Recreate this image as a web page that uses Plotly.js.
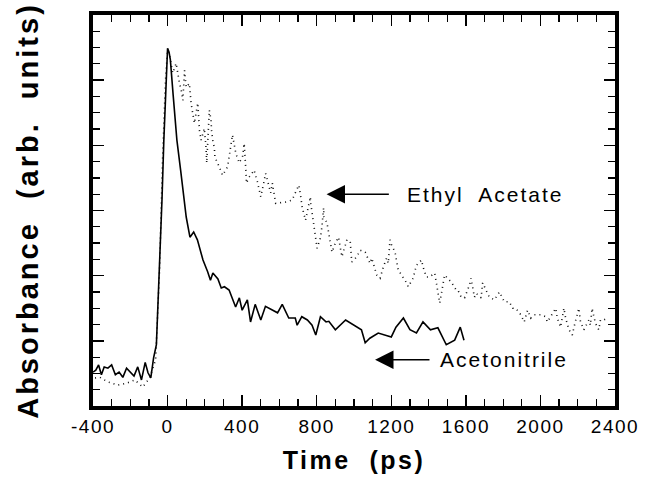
<!DOCTYPE html>
<html>
<head>
<meta charset="utf-8">
<script src="https://cdn.plot.ly/plotly-3.0.1.min.js"></script>
<style>
  html, body { margin: 0; padding: 0; background: #fff; }
  #chart { width: 647px; height: 479px; }
  .xtick text { letter-spacing: 1.5px; }
  .xtitle { letter-spacing: 2.5px; }
  .ytitle { letter-spacing: 3px; }
  .annotation-text { letter-spacing: 2px; }
</style>
</head>
<body>
<div id="chart"></div>
<script>
// Acetonitrile (solid line): time (ps) and absorbance (arb. units)
const acnTime = [-400,-385,-370,-355,-340,-320,-300,-280,-260,-240,-220,-200,-180,-160,-140,-120,-105,-90,-75,-60,-50,-40,-30,-20,-10,0,8,15,30,50,70,90,100,120,140,160,190,215,230,243,270,288,305,330,365,385,400,428,445,470,500,525,560,590,615,650,685,695,720,750,775,795,820,850,865,900,955,1000,1040,1060,1085,1130,1200,1225,1265,1300,1335,1370,1410,1450,1495,1540,1570,1590];
const acnAbs  = [0.52,0.55,0.63,0.48,0.60,0.58,0.63,0.48,0.52,0.44,0.58,0.52,0.46,0.60,0.40,0.67,0.51,0.43,0.74,0.94,1.63,2.39,3.16,4.08,4.85,5.49,5.43,5.31,4.77,4.08,3.62,3.16,2.90,2.59,2.67,2.55,2.24,2.06,1.93,2.04,1.95,1.81,1.83,1.78,1.52,1.66,1.47,1.63,1.29,1.56,1.32,1.53,1.47,1.43,1.56,1.35,1.35,1.24,1.37,1.32,1.24,1.09,1.37,1.29,1.30,1.17,1.32,1.24,1.17,0.97,1.04,1.12,1.06,1.21,1.35,1.17,1.12,1.29,1.17,1.20,0.94,1.01,1.21,1.01];

// Ethyl acetate (dotted trace)
const etaTime = [-389,-363,-320,-267,-219,-176,-133,-96,-64,-43,-27,-11,0,11,20,28,46,53,64,73,82,91,100,117,120,126,135,144,162,171,180,197,206,210,224,233,236,242,251,254,277,295,322,340,348,366,384,402,411,420,423,437,464,482,500,517,526,553,562,580,633,668,704,713,722,740,766,768,784,793,802,820,828,837,839,855,873,882,900,917,926,935,962,980,988,1015,1033,1060,1086,1095,1122,1140,1157,1175,1184,1193,1202,1220,1237,1264,1282,1291,1317,1335,1362,1371,1388,1406,1433,1451,1460,1486,1522,1548,1557,1575,1593,1620,1628,1646,1655,1682,1690,1726,1753,1780,1806,1833,1851,1868,1895,1913,1931,1948,1966,2002,2028,2037,2064,2082,2090,2108,2126,2135,2153,2171,2180,2206,2215,2233,2260,2268,2277,2295,2313,2322,2340,2357];
const etaAbs  = [0.43,0.44,0.37,0.32,0.35,0.40,0.29,0.43,0.71,2.09,3.77,5.00,5.46,5.38,5.23,5.11,5.26,5.11,4.95,4.85,4.69,5.15,4.89,4.95,4.80,4.65,4.49,4.34,4.65,4.23,4.08,4.26,3.97,3.73,4.54,4.39,4.23,4.08,3.96,3.82,3.67,3.54,3.67,4.03,4.16,3.88,3.73,3.82,4.03,3.62,3.42,3.51,3.62,3.44,3.21,3.44,3.57,3.27,3.42,3.11,3.13,3.16,3.39,3.24,3.05,2.85,3.21,3.11,2.81,2.65,2.42,2.58,2.75,3.04,2.90,2.81,2.50,2.36,2.50,2.59,2.44,2.29,2.55,2.52,2.21,2.29,2.39,2.36,2.19,2.27,2.01,1.96,2.13,2.27,2.19,2.55,2.47,2.36,2.09,1.98,1.89,1.83,1.96,2.16,2.24,2.13,1.98,1.98,2.04,1.73,1.58,2.01,1.90,1.78,1.78,1.67,1.66,1.86,1.96,1.67,1.73,1.66,1.89,1.67,1.63,1.75,1.60,1.60,1.50,1.50,1.40,1.29,1.47,1.35,1.40,1.40,1.37,1.29,1.43,1.50,1.35,1.21,1.50,1.35,1.17,1.09,1.21,1.50,1.29,1.17,1.32,1.24,1.50,1.27,1.17,1.32,1.32,1.35];

// Axis ticks
const xTickVals = [-400, 0, 400, 800, 1200, 1600, 2000, 2400];
const xTickText = ['-400', '0', '400', '800', '1200', '1600', '2000', '2400'];

// Labels
const seriesNames = ['Acetonitrile', 'Ethyl Acetate'];
const xTitle = 'Time  (ps)';
const yTitle = 'Absorbance  (arb.  units)';

const FONT = 'Liberation Sans, Arial, Helvetica, sans-serif';

const traces = [
  {
    x: etaTime, y: etaAbs, name: seriesNames[1],
    type: 'scatter', mode: 'lines',
    line: { color: '#111', width: 1.6, dash: '1px,4px' }
  },
  {
    x: acnTime, y: acnAbs, name: seriesNames[0],
    type: 'scatter', mode: 'lines',
    line: { color: '#000', width: 1.6 }
  }
];

const layout = {
  width: 647, height: 479,
  margin: { l: 93, r: 32, t: 15, b: 73 },
  paper_bgcolor: '#fff', plot_bgcolor: '#fff',
  showlegend: false,
  font: { family: FONT, color: '#000' },
  xaxis: {
    range: [-400, 2400],
    tickmode: 'array', tickvals: xTickVals, ticktext: xTickText,
    ticks: 'inside', ticklen: 11, tickwidth: 1.5, tickcolor: '#000',
    minor: { dtick: 100, tick0: 0, ticks: 'inside', ticklen: 7, tickwidth: 1.2, tickcolor: '#000', showgrid: false },
    showline: true, linecolor: '#000', linewidth: 4, mirror: 'allticks',
    showgrid: false, zeroline: false,
    tickfont: { family: FONT, size: 19, color: '#000' },
    title: { text: xTitle, font: { family: FONT, size: 25, weight: 'bold', color: '#000' }, standoff: 17 }
  },
  yaxis: {
    range: [0, 6],
    dtick: 1, tick0: 0,
    ticks: 'inside', ticklen: 11, tickwidth: 1.5, tickcolor: '#000',
    minor: { dtick: 0.25, tick0: 0, ticks: 'inside', ticklen: 7, tickwidth: 1.2, tickcolor: '#000', showgrid: false },
    showticklabels: false,
    showline: true, linecolor: '#000', linewidth: 4, mirror: 'allticks',
    showgrid: false, zeroline: false,
    title: { text: yTitle, font: { family: FONT, size: 29, weight: 'bold', color: '#000' }, standoff: 43 }
  },
  annotations: [
    { x: 853, y: 3.25, ax: 1195, ay: 3.25, axref: 'x', ayref: 'y', xref: 'x', yref: 'y',
      text: '', showarrow: true, arrowhead: 2, arrowsize: 2.3, arrowwidth: 1.6, arrowcolor: '#000' },
    { x: 1275, y: 3.25, xref: 'x', yref: 'y', text: 'Ethyl  Acetate', showarrow: false,
      xanchor: 'left', yanchor: 'middle', font: { family: FONT, size: 21, color: '#000' } },
    { x: 1113, y: 0.71, ax: 1413, ay: 0.71, axref: 'x', ayref: 'y', xref: 'x', yref: 'y',
      text: '', showarrow: true, arrowhead: 2, arrowsize: 2.3, arrowwidth: 1.6, arrowcolor: '#000' },
    { x: 1451, y: 0.71, xref: 'x', yref: 'y', text: 'Acetonitrile', showarrow: false,
      xanchor: 'left', yanchor: 'middle', font: { family: FONT, size: 21, color: '#000' } }
  ]
};

Plotly.newPlot('chart', traces, layout, { staticPlot: true, displayModeBar: false });
</script>
</body>
</html>
